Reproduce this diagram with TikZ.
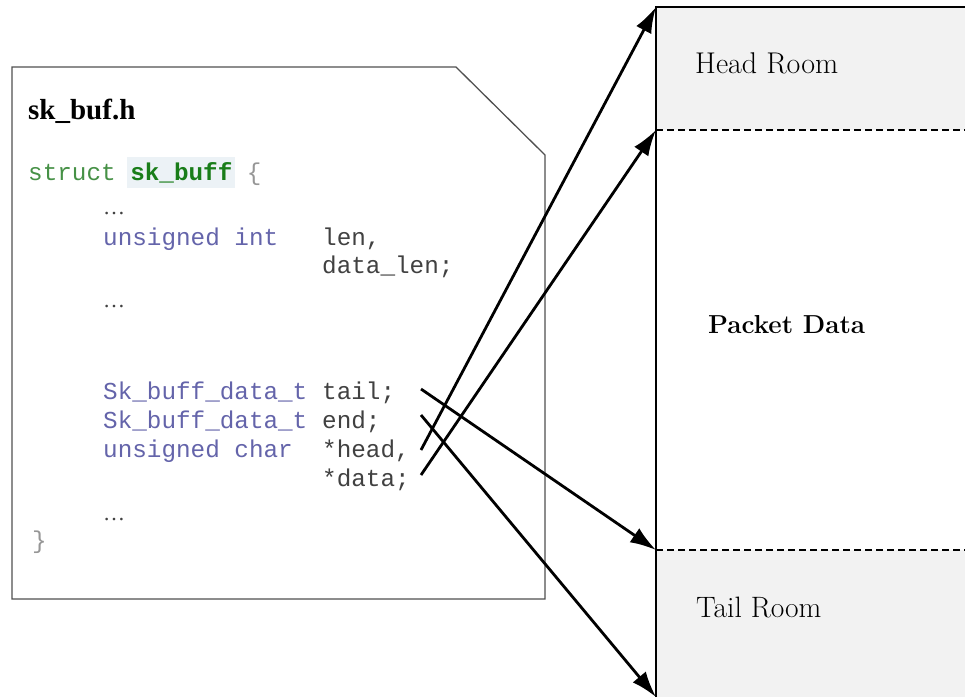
\documentclass[tikz,border=0pt]{standalone}
\usepackage{fontspec}
\setmonofont{Liberation Mono}
\newfontfamily\timesf{Liberation Serif}
\usetikzlibrary{arrows.meta}
\definecolor{typec}{RGB}{100,100,170}
\definecolor{varc}{RGB}{65,65,65}
\definecolor{grn}{RGB}{70,145,70}
\definecolor{grnd}{RGB}{25,125,25}
\definecolor{hlc}{RGB}{236,242,246}
\definecolor{brc}{RGB}{150,150,150}
\definecolor{roomgray}{RGB}{242,242,242}
\definecolor{framec}{RGB}{80,80,80}
\tikzset{
  code/.style={anchor=base west, inner sep=0pt, font=\fontsize{24.3}{29}\selectfont\ttfamily},
  dots/.style={anchor=base west, inner sep=0pt, font=\fontsize{22}{26}\selectfont\timesf, text=varc},
  roomlabel/.style={anchor=base west, inner sep=0pt, font=\fontsize{30}{34}\selectfont},
  ptr/.style={line width=2.8pt, -{Latex[length=26pt,width=17pt]}},
  divider/.style={dashed, dash pattern=on 7pt off 4pt, line width=1.2pt},
}
\begin{document}
\begin{tikzpicture}[x=1pt,y=-1pt]
\useasboundingbox (0,0) rectangle (965,697);
% memory region on the right
\fill[roomgray] (656,7) rectangle (965,130);
\fill[roomgray] (656,550) rectangle (965,697);
\draw[line width=1.3pt] (656,697) -- (656,7) -- (965,7);
\draw[divider] (656,130) -- (965,130);
\draw[divider] (656,550) -- (965,550);
\node[roomlabel] (headroom) at (695,73) {Head Room};
\node[roomlabel, font=\fontsize{26}{30}\selectfont\bfseries] (pdata) at (708,333) {Packet Data};
\node[roomlabel, font=\fontsize{29.5}{34}\selectfont] (tailroom) at (696,617) {Tail Room};
% header file box
\draw[framec, line width=1.3pt, fill=white] (12,67) -- (456,67) -- (545,155) -- (545,599) -- (12,599) -- cycle;
\node[anchor=base west, inner sep=0pt, font=\fontsize{29}{34}\selectfont\timesf\bfseries] (fname) at (28,119) {sk\_buf.h};
\fill[hlc] (127,157) rectangle (235,188);
\node[code] (struct) at (28,180) {\textcolor{grn}{struct} \textcolor{grnd}{\bfseries sk\_buff} \textcolor{brc}{\{}};
\node[dots] (d1) at (103,214) {…};
\node[code, text=typec] (t1) at (103,245) {unsigned int};
\node[code, text=varc] (v1) at (322,245) {len,};
\node[code, text=varc] (v2) at (322,273) {data\_len;};
\node[dots] (d2) at (103,307) {…};
\node[code, text=typec] (t2) at (103,399) {Sk\_buff\_data\_t};
\node[code, text=varc] (v3) at (322,399) {tail;};
\node[code, text=typec] (t3) at (103,428) {Sk\_buff\_data\_t};
\node[code, text=varc] (v4) at (322,428) {end;};
\node[code, text=typec] (t4) at (103,457) {unsigned char};
\node[code, text=varc] (v5) at (322,457) {*head,};
\node[code, text=varc] (v6) at (322,486) {*data;};
\node[dots] (d3) at (103,520) {…};
\node[code, text=brc] (close) at (32,548) {\}};
% pointer endpoints
\coordinate (stail) at (421,389);
\coordinate (send) at (421,415);
\coordinate (shead) at (421,450);
\coordinate (sdata) at (421,475);
\coordinate (bufstart) at (656,7);
\coordinate (datastart) at (656,130);
\coordinate (dataend) at (656,550);
\coordinate (bufend) at (656,697);
\draw[ptr] (shead) -- (bufstart);
\draw[ptr] (sdata) -- (datastart);
\draw[ptr] (stail) -- (dataend);
\draw[ptr] (send) -- (bufend);
\end{tikzpicture}
\end{document}
